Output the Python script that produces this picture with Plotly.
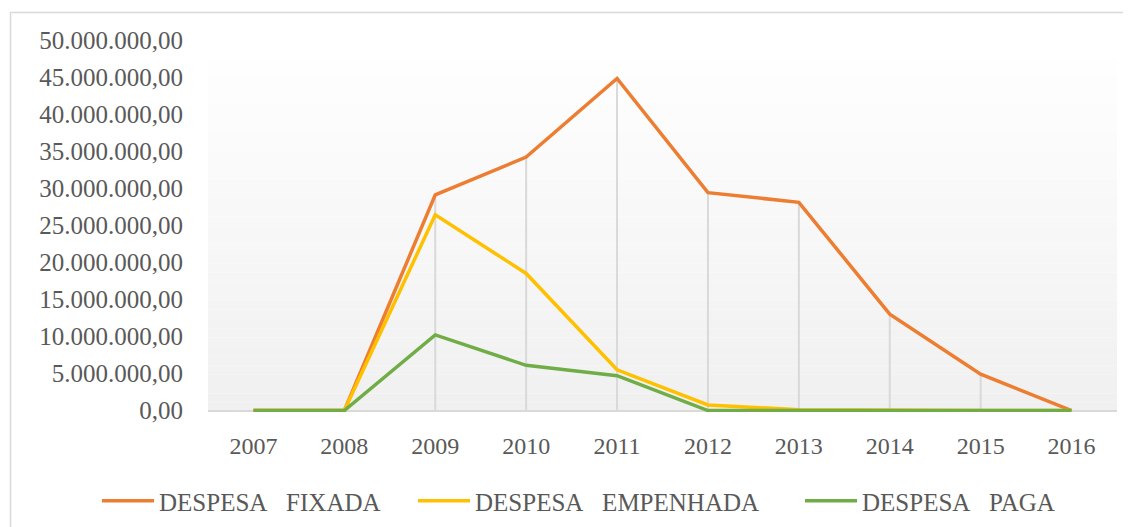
import plotly.graph_objects as go

years = ["2007", "2008", "2009", "2010", "2011", "2012", "2013", "2014", "2015", "2016"]
despesa_fixada = [0, 0, 29.1e6, 34.2e6, 44.8e6, 29.4e6, 28.1e6, 13.0e6, 4.9e6, 0]
despesa_empenhada = [0, 0, 26.4e6, 18.5e6, 5.5e6, 0.75e6, 0.1e6, 0, 0, 0]
despesa_paga = [0, 0, 10.2e6, 6.1e6, 4.7e6, 0, 0, 0, 0, 0]
series_names = ["DESPESA\u00a0\u00a0\u00a0FIXADA", "DESPESA\u00a0\u00a0\u00a0EMPENHADA", "DESPESA\u00a0\u00a0\u00a0PAGA"]
y_tick_values = [0, 5e6, 10e6, 15e6, 20e6, 25e6, 30e6, 35e6, 40e6, 45e6, 50e6]
y_tick_labels = ["0,00", "5.000.000,00", "10.000.000,00", "15.000.000,00", "20.000.000,00",
                 "25.000.000,00", "30.000.000,00", "35.000.000,00", "40.000.000,00",
                 "45.000.000,00", "50.000.000,00"]

colors = ["#ED7D31", "#FFC000", "#70AD47"]
FONT = "Liberation Serif"
TXT = "#595959"

# the page places the figure 8px right and down (body margin)
OFF = 8
W, H = 1131, 527
L, R, T, B = 200, 22, 32, 122.5
pw, ph = W - L - R, H - T - B

def px_x(x):
    return (x - OFF - L) / pw

def px_y(y):
    return (H - B - (y - OFF)) / ph

def cx(x):
    return (x - OFF) / W

def cy(y):
    return 1 - (y - OFF) / H

fig = go.Figure()

# drop lines from the highest series down to the axis
maxima = [max(a, b, c) for a, b, c in zip(despesa_fixada, despesa_empenhada, despesa_paga)]
dx, dy = [], []
for yr, m in zip(years, maxima):
    if m > 0:
        dx += [yr, yr, None]
        dy += [0, m, None]
fig.add_trace(go.Scatter(x=dx, y=dy, mode="lines", line=dict(color="#d9d9d9", width=2),
                         showlegend=False, hoverinfo="skip"))

legend_ids = ["legend", "legend2", "legend3"]
for name, vals, col, lg in zip(series_names, [despesa_fixada, despesa_empenhada, despesa_paga],
                               colors, legend_ids):
    fig.add_trace(go.Scatter(x=years, y=vals, mode="lines", name=name, legend=lg,
                             line=dict(color=col, width=3.5)))

shapes = []
# gradient plot background
n = 40
for i in range(n):
    t = i / (n - 1)
    v = round(0xf0 + (0xff - 0xf0) * t)
    c = f"rgb({v},{v},{v})"
    shapes.append(dict(type="rect", xref="paper", yref="paper", x0=0, x1=1,
                       y0=i / n, y1=(i + 1) / n, fillcolor=c, line=dict(width=0), layer="below"))
# chart border
shapes.append(dict(type="rect", xref="paper", yref="paper",
                   x0=px_x(10.5), x1=px_x(1180), y0=px_y(12.5), y1=px_y(580),
                   line=dict(color="#d9d9d9", width=1.5), fillcolor="rgba(0,0,0,0)", layer="below"))

def leg(xpx):
    return dict(orientation="h", xref="container", yref="container",
                x=cx(xpx), xanchor="left", y=cy(501), yanchor="middle",
                font=dict(family=FONT, size=25, color=TXT), itemwidth=52,
                bgcolor="rgba(0,0,0,0)")

fig.update_layout(
    width=W, height=H,
    margin=dict(l=L, r=R, t=T, b=B, pad=0, autoexpand=False),
    paper_bgcolor="white", plot_bgcolor="white",
    font=dict(family=FONT, color=TXT, size=24),
    shapes=shapes,
    showlegend=True,
    legend=leg(97), legend2=leg(413), legend3=leg(800),
    xaxis=dict(type="category", categoryorder="array", categoryarray=years, automargin=False,
               range=[-0.5, 9.5], showgrid=False, zeroline=False,
               showline=False, ticks="", tickfont=dict(family=FONT, size=24), ticklabelstandoff=17),
    yaxis=dict(range=[-0.2e6, 50e6], tickvals=y_tick_values, ticktext=y_tick_labels, automargin=False,
               showgrid=False, zeroline=True, zerolinecolor="#d9d9d9", zerolinewidth=2,
               showline=False, ticks="", tickfont=dict(family=FONT, size=25), ticklabelstandoff=24),
)

fig.write_html("out.html")
